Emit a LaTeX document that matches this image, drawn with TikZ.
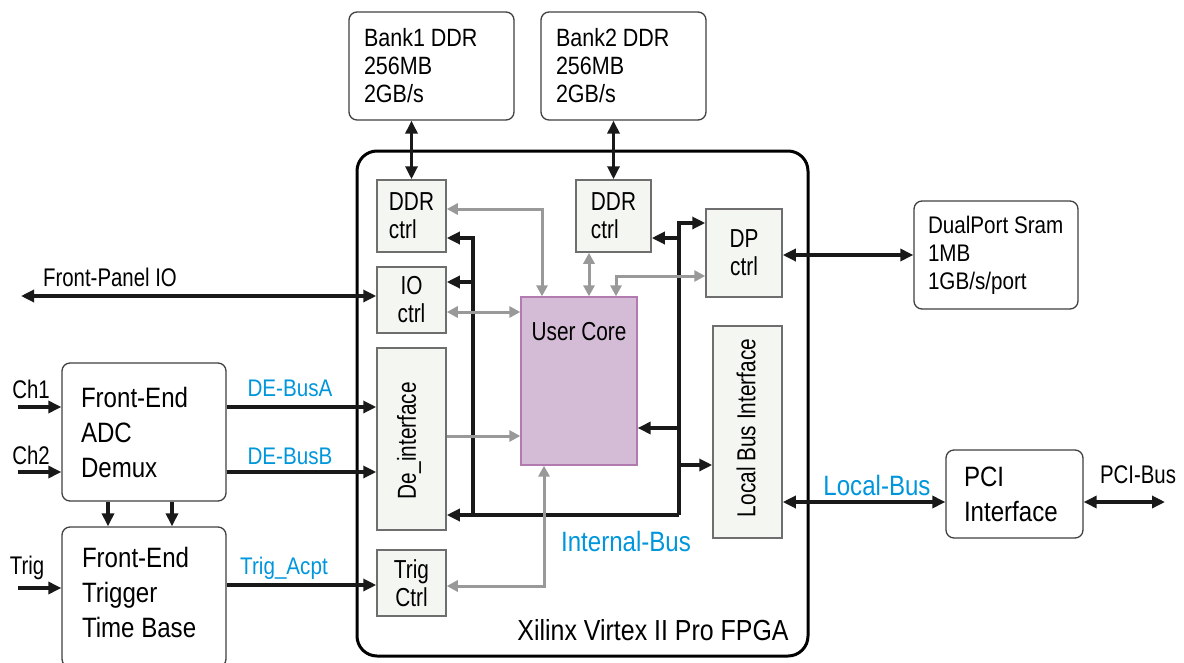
\documentclass[tikz,border=0pt]{standalone}
\usepackage{fontspec}
\setmainfont{Liberation Sans}[FakeStretch=0.86]
\newfontfamily\narrowfont{Liberation Sans}[FakeStretch=0.8]
\usetikzlibrary{arrows.meta,calc}
\definecolor{ublue}{RGB}{0,150,219}
\definecolor{agray}{RGB}{153,153,153}
\definecolor{blkfill}{RGB}{244,247,241}
\definecolor{blkdraw}{RGB}{110,110,110}
\definecolor{corefill}{RGB}{213,188,214}
\definecolor{coredraw}{RGB}{178,123,176}
\begin{document}
\begin{tikzpicture}[x=1pt,y=-1pt,
  >={Triangle[length=13pt,width=12pt]},
  natsp/.style={execute at begin node={\spaceskip=0pt\xspaceskip=0pt\relax}},
  outerbox/.style={draw=black!75, line width=1.3pt, rounded corners=8pt, fill=white, align=left, inner ysep=0pt, natsp},
  blk/.style={draw=blkdraw, line width=1.5pt, fill=blkfill, font=\narrowfont\fontsize{26}{28}\selectfont, inner sep=0pt},
  blktext/.style={font=\narrowfont\fontsize{26}{28}\selectfont, inner sep=0pt},
  bus/.style={line width=3.2pt, draw=black!90},
  gbus/.style={line width=3pt, draw=agray, >={Triangle[length=11pt,width=11pt]}},
  lbl/.style={font=\narrowfont\fontsize{25.5}{27}\selectfont, inner sep=0pt},
  blbl/.style={font=\fontsize{24}{26}\selectfont, text=ublue, inner sep=0pt},
  bigblbl/.style={font=\fontsize{28}{30}\selectfont, text=ublue, inner sep=0pt},
]
\useasboundingbox (0,0) rectangle (1184,662);
\clip (0,0) rectangle (1184,662);

% FPGA frame
\node[draw, line width=3pt, rounded corners=20pt, minimum width=451pt, minimum height=505pt, inner sep=0pt] (fpga) at (582.5,403.5) {};
\node[font=\fontsize{29}{31}\selectfont, inner sep=0pt] (fpgatext) at (653,630) {Xilinx Virtex II Pro FPGA};

% external memories
\node[outerbox, text width=135pt, inner xsep=15pt, minimum height=108pt, font=\fontsize{25}{28}\selectfont] (bank1) at (431.5,66) {Bank1 DDR\\256MB\\2GB/s};
\node[outerbox, text width=135pt, inner xsep=15pt, minimum height=108pt, font=\fontsize{25}{28}\selectfont] (bank2) at (623.5,66) {Bank2 DDR\\256MB\\2GB/s};
\node[outerbox, text width=136pt, inner xsep=14pt, minimum height=108pt, font=\fontsize{24}{28}\selectfont] (sram) at (996,255) {DualPort Sram\\1MB\\1GB/s/port};
\node[outerbox, text width=101pt, inner xsep=18pt, minimum height=88pt, font=\fontsize{28}{35}\selectfont] (pci) at (1014.5,494) {PCI\\Interface};

% front end
\node[outerbox, text width=126pt, inner xsep=19pt, minimum height=138pt, font=\fontsize{28}{35}\selectfont] (fe) at (144,432) {Front-End\\ADC\\Demux};
\node[outerbox, minimum width=164pt, minimum height=140pt, inner sep=0pt] (trg) at (144,597) {};
\node[align=left, text width=126pt, inner sep=0pt, natsp, font=\fontsize{28}{35}\selectfont] (trgtext) at (145,592) {Front-End\\Trigger\\Time Base};

% FPGA blocks
\node[blk, minimum width=69pt, minimum height=72pt, align=left] (ddr1) at (411.5,216) {DDR\\ctrl};
\node[blk, minimum width=75pt, minimum height=72pt, align=left] (ddr2) at (613.5,216) {DDR\\ctrl};
\node[blk, minimum width=69pt, minimum height=66pt, align=center] (ioc) at (411.5,300) {IO\\ctrl};
\node[blk, minimum width=69pt, minimum height=182pt] (dein) at (411.5,439) {};
\node[blktext, rotate=90] (deintext) at (409,441) {De\_interface};
\node[blk, minimum width=69pt, minimum height=66pt, align=center] (trigc) at (411.5,583) {Trig\\Ctrl};
\node[draw=coredraw, fill=corefill, line width=1.3pt, minimum width=116pt, minimum height=168pt, inner sep=0pt] (core) at (579,381) {};
\node[blktext] (coretext) at (579,332) {User Core};
\node[blk, minimum width=76pt, minimum height=88pt, align=center] (dp) at (744,253) {DP\\ctrl};
\node[blk, minimum width=69pt, minimum height=212pt] (lbi) at (747.5,432) {};
\node[blktext, rotate=90] (lbitext) at (746,428) {Local Bus Interface};

% labels
\node[lbl] (fplbl) at (110,277) {Front-Panel IO};
\node[lbl] (ch1lbl) at (31,389) {Ch1};
\node[lbl] (ch2lbl) at (31,455) {Ch2};
\node[lbl] (triglbl) at (27,568) {Trig};
\node[lbl] (pcibuslbl) at (1138,475) {PCI-Bus};
\node[blbl] (busalbl) at (290,388) {DE-BusA};
\node[blbl] (busblbl) at (290,456) {DE-BusB};
\node[blbl] (acptlbl) at (284,568) {Trig\_Acpt};
\node[bigblbl] (lblbl) at (877,485) {Local-Bus};
\node[bigblbl] (iblbl) at (626,541) {Internal-Bus};

% coordinates
\coordinate (fp) at (21,296);
\coordinate (ch1) at (18,407);
\coordinate (ch2) at (18,472);
\coordinate (trig) at (18,588);
\coordinate (acpt) at (300,585);
\coordinate (d1) at ($(fe.south)+(-36,0)$);
\coordinate (d2) at ($(fe.south)+(28,0)$);
\coordinate (busLt) at (473,238);
\coordinate (busLb) at (473,515);
\coordinate (busRb) at (679,515);
\coordinate (busRt) at (679,223);
\coordinate (ioTap) at (473,282);
\coordinate (ddr2Tap) at (679,238);
\coordinate (coreTap) at (679,428);
\coordinate (lbiTap) at (679,465);
\coordinate (g1) at (542,209);
\coordinate (g2) at (480,312);
\coordinate (g3) at (589,275);
\coordinate (g4) at (616,276);
\coordinate (g5) at (480,436);
\coordinate (g6) at (544,586);
\coordinate (lb) at (850,502);
\coordinate (pcib) at (1165,502);

% external connectors
\draw[bus,<->] (ddr1.north) -- (ddr1.north |- bank1.south);
\draw[bus,<->] (ddr2.north) -- (ddr2.north |- bank2.south);
\draw[bus,<->] (fp) -- (fp -| ioc.west);
\draw[bus,->] (ch1) -- (ch1 -| fe.west);
\draw[bus,->] (ch2) -- (ch2 -| fe.west);
\draw[bus,->] (trig) -- (trig -| trg.west);
\draw[bus,->] (ch1 -| fe.east) -- (ch1 -| dein.west);
\draw[bus,->] (ch2 -| fe.east) -- (ch2 -| dein.west);
\draw[bus,->] (acpt -| trg.east) -- (acpt -| trigc.west);
\draw[bus,->] (d1) -- (d1 |- trg.north);
\draw[bus,->] (d2) -- (d2 |- trg.north);
\draw[bus,<->] (dp.east |- sram.west) -- (sram.west);
\draw[bus,<->] (lb -| lbi.east) -- (lb -| pci.west);
\draw[bus,<->] (lb -| pci.east) -- (pcib);

% internal bus (black)
\draw[bus,->] (busLb) -- (busLt) -- (busLt -| ddr1.east);
\draw[bus,->] (ioTap) -- (ioTap -| ioc.east);
\draw[bus,->] (busRb) -- (busRb -| dein.east);
\draw[bus,->] (busRb) -- (busRt) -- (busRt -| dp.west);
\draw[bus,->] (ddr2Tap) -- (ddr2Tap -| ddr2.east);
\draw[bus,->] (coreTap) -- (coreTap -| core.east);
\draw[bus,->] (lbiTap) -- (lbiTap -| lbi.west);

% gray links
\draw[gbus,<->] (g1 -| ddr1.east) -- (g1) -- (g1 |- core.north);
\draw[gbus,<->] (g2 -| ioc.east) -- (g2 -| core.west);
\draw[gbus,<->] (g3 |- ddr2.south) -- (g3 |- core.north);
\draw[gbus,<->] (g4 |- core.north) -- (g4) -- (g4 -| dp.west);
\draw[gbus,->] (g5 -| dein.east) -- (g5 -| core.west);
\draw[gbus,<->] (g6 |- core.south) -- (g6) -- (g6 -| trigc.east);
\end{tikzpicture}
\end{document}
